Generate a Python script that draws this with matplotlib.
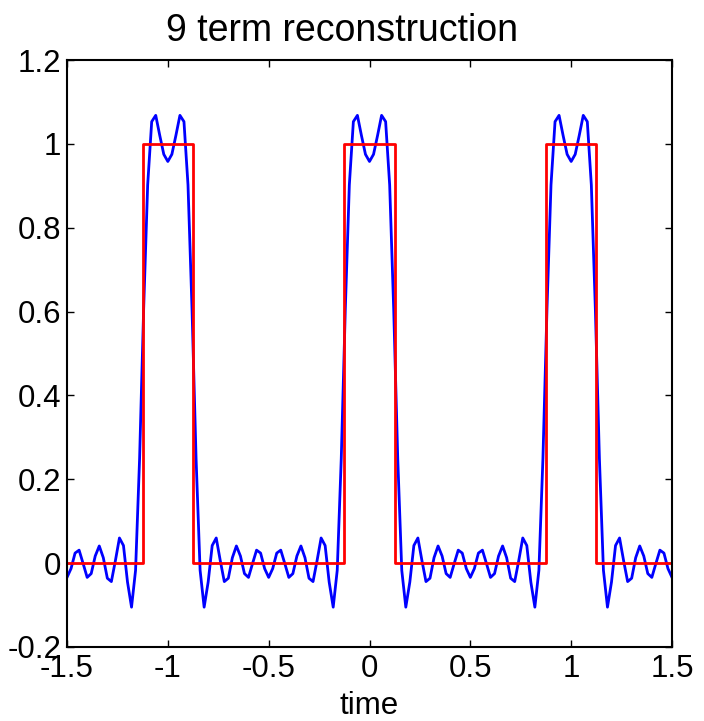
import numpy as np
import matplotlib
matplotlib.use("Agg")
import matplotlib.pyplot as plt

# time axis for the reconstruction (151 samples, -1.5 .. 1.5)
t = np.linspace(-1.5, 1.5, 151)

# reconstructed signal
recon = [
    -0.034, -0.013, 0.024, 0.031, -0.001, -0.034, -0.025, 0.017, 0.041, 0.013,
    -0.036, -0.044, 0.006, 0.060, 0.042, -0.045, -0.105, -0.017, 0.250, 0.605,
    0.902, 1.053, 1.068, 1.020, 0.975, 0.958,
    0.975, 1.020, 1.068, 1.053, 0.902, 0.605, 0.250, -0.017, -0.105, -0.045,
    0.042, 0.060, 0.006, -0.044, -0.036, 0.013, 0.041, 0.017, -0.025, -0.034,
    -0.001, 0.031, 0.024, -0.013, -0.034,
    -0.013, 0.024, 0.031, -0.001, -0.034, -0.025, 0.017, 0.041, 0.013,
    -0.036, -0.044, 0.006, 0.060, 0.042, -0.045, -0.105, -0.017, 0.250, 0.605,
    0.902, 1.053, 1.068, 1.020, 0.975, 0.958,
    0.975, 1.020, 1.068, 1.053, 0.902, 0.605, 0.250, -0.017, -0.105, -0.045,
    0.042, 0.060, 0.006, -0.044, -0.036, 0.013, 0.041, 0.017, -0.025, -0.034,
    -0.001, 0.031, 0.024, -0.013, -0.034,
    -0.013, 0.024, 0.031, -0.001, -0.034, -0.025, 0.017, 0.041, 0.013,
    -0.036, -0.044, 0.006, 0.060, 0.042, -0.045, -0.105, -0.017, 0.250, 0.605,
    0.902, 1.053, 1.068, 1.020, 0.975, 0.958,
    0.975, 1.020, 1.068, 1.053, 0.902, 0.605, 0.250, -0.017, -0.105, -0.045,
    0.042, 0.060, 0.006, -0.044, -0.036, 0.013, 0.041, 0.017, -0.025, -0.034,
    -0.001, 0.031, 0.024, -0.013, -0.034,
]

# ideal pulse train (red)
pulse_t = [-1.5, -1.125, -1.125, -0.875, -0.875, -0.125, -0.125, 0.125, 0.125,
           0.875, 0.875, 1.125, 1.125, 1.5]
pulse_y = [0, 0, 1, 1, 0, 0, 1, 1, 0, 0, 1, 1, 0, 0]

xticks = [-1.5, -1, -0.5, 0, 0.5, 1, 1.5]
xticklabels = ["-1.5", "-1", "-0.5", "0", "0.5", "1", "1.5"]
yticks = [-0.2, 0, 0.2, 0.4, 0.6, 0.8, 1, 1.2]
yticklabels = ["-0.2", "0", "0.2", "0.4", "0.6", "0.8", "1", "1.2"]

plt.rcParams['font.family'] = ['Liberation Sans', 'DejaVu Sans']
plt.rcParams['font.size'] = 22.5

fig = plt.figure(figsize=(7.04, 7.21), dpi=100)
ax = fig.add_axes([67/704, 74/721, 605/704, 587/721])

ax.plot(t, recon, color='#0000ff', lw=2.0)
ax.plot(pulse_t, pulse_y, color='#ff0000', lw=2.0)

ax.set_xlim(-1.5, 1.5)
ax.set_ylim(-0.2, 1.2)
ax.set_xticks(xticks)
ax.set_xticklabels(xticklabels)
ax.set_yticks(yticks)
ax.set_yticklabels(yticklabels)
ax.tick_params(direction='in', length=5, width=1, top=True, right=True)
ax.tick_params(axis='x', pad=5)
ax.tick_params(axis='y', pad=4)
for s in ax.spines.values():
    s.set_linewidth(1.5)

# title sits a bit left of the axes centre in the original
ax.set_title("9 term reconstruction", x=0.455, pad=14)
ax.set_xlabel("time", labelpad=5)

fig.savefig("out.png", dpi=100)
